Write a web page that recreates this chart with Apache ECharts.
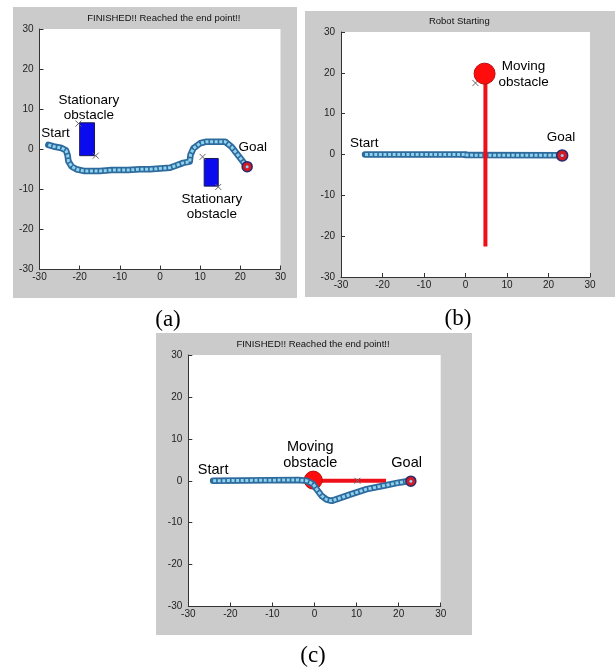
<!DOCTYPE html>
<html><head><meta charset="utf-8">
<script src="https://cdn.jsdelivr.net/npm/echarts@6/dist/echarts.min.js"></script>
<style>html,body{margin:0;padding:0;background:#fff}#c{width:615px;height:669px}</style>
</head><body><div id="c"></div>
<script>
// ---- data ----
const axisTicks = [-30, -20, -10, 0, 10, 20, 30];
const titles = ['FINISHED!! Reached the end point!!', 'Robot Starting', 'FINISHED!! Reached the end point!!'];
const panelLabels = ['(a)', '(b)', '(c)'];

// (a) stationary obstacles
const pathA = [[-27.8,1.1],[-26.5,0.7],[-24.5,0.3],[-23.4,-0.3],[-23.0,-1.5],[-22.8,-3.0],[-22.0,-4.3],[-20.8,-5.0],[-19.0,-5.4],[-15.0,-5.4],[-12.0,-5.2],[-8.0,-5.2],[-5.0,-5.0],[-2.5,-5.0],[2.5,-4.6],[5.8,-3.4],[7.4,-3.1],[7.6,-1.4],[8.3,0.2],[10.0,1.5],[11.6,1.9],[16.2,1.9],[17.8,0.6],[21.6,-4.3]];
const rectsA = [[-20.0,-1.6,-16.3,6.6],[11.0,-9.2,14.5,-2.3]];
const crossesA = [[-20.3,6.4],[-16.0,-1.6],[10.6,-1.9],[14.5,-9.4]];
const goalA = [[21.7,-4.35]];
const notesA = [['Start',-26.0,4.1],['Stationary\nobstacle',-17.7,10.4],['Stationary\nobstacle',12.9,-14.4],['Goal',23.1,0.5]];

// (b) moving obstacle, start
const pathB1 = [[-24.2,0.0],[0.0,0.0]];
const pathB2 = [[0.0,-0.15],[23.3,-0.2]];
const obsLineB = [[4.8,19.8],[4.8,-22.5]];
const obsB = [[4.6,19.8]];
const crossesB = [[2.4,17.5]];
const goalB = [[23.3,-0.25]];
const notesB = [['Start',-24.4,2.8],['Moving\nobstacle',14.0,19.7],['Goal',23.0,4.3]];

// (c) moving obstacle, finished
const pathC = [[-24.1,0.0],[-3.9,0.2],[-1.9,0.0],[-0.3,-0.8],[0.5,-2.0],[1.7,-3.6],[2.9,-4.5],[4.1,-4.8],[8.4,-3.3],[12.4,-2.0],[16.4,-1.2],[20.3,-0.4],[22.85,0.0]];
const obsLineC = [[0.0,0.0],[17.0,0.0]];
const obsC = [[-0.3,0.15]];
const crossesC = [[10.2,0.0]];
const goalC = [[22.9,-0.1]];
const notesC = [['Start',-24.1,2.6],['Moving\nobstacle',-1.0,6.1],['Goal',21.9,4.2]];

// ---- layout / style ----
const grids = [
  {left:39.5, top:29, width:241, height:240.5},
  {left:341, top:32, width:249, height:245},
  {left:188.3, top:355, width:252.4, height:251.5}
];
const panels = [
  {x:13, y:7, w:284, h:291},
  {x:305, y:11, w:310, h:286},
  {x:156, y:333, w:316, h:302}
];
const titlePos = [[163.8,18.5],[459.3,21.5],[313,344]];
const labelPos = [[168,320],[458,319],[313,656]];
const noteSize = [13.5, 13.5, 14.5];

const PATH_DARK = '#2f6a9c', PATH_LIGHT = '#8ed3f0';
const RED = '#ff0d0d';
const FONT = 'Liberation Sans, Arial, sans-serif';

const xAxes = [], yAxes = [], series = [], graphics = [];
panels.forEach(p => graphics.push({type:'rect', z:-10, shape:{x:p.x, y:p.y, width:p.w, height:p.h}, style:{fill:'#cbcbcb'}}));
titles.forEach((t,i) => graphics.push({type:'text', x:titlePos[i][0], y:titlePos[i][1], style:{text:t, fontSize:9.5, fontFamily:FONT, fill:'#111', textAlign:'center', textVerticalAlign:'middle'}}));
panelLabels.forEach((t,i) => graphics.push({type:'text', x:labelPos[i][0], y:labelPos[i][1], style:{text:t, fontSize:23, fontFamily:'Liberation Serif, Times New Roman, serif', fill:'#000', textAlign:'center', textVerticalAlign:'middle'}}));

grids.forEach((g,i) => {
  const common = {gridIndex:i, type:'value', min:axisTicks[0], max:axisTicks[axisTicks.length-1], interval:10,
    axisLine:{onZero:false, lineStyle:{color:'#333', width:1}},
    axisTick:{inside:true, length:4, lineStyle:{color:'#333'}},
    splitLine:{show:false},
    axisLabel:{fontSize:10, color:'#222', fontFamily:FONT}};
  xAxes.push(Object.assign({}, common, {axisLabel:Object.assign({}, common.axisLabel, {margin:3})}));
  yAxes.push(Object.assign({}, common, {axisLabel:Object.assign({}, common.axisLabel, {margin:6})}));
});

function pathSeries(i, data) {
  series.push({type:'line', xAxisIndex:i, yAxisIndex:i, data:data, showSymbol:false, silent:true, z:5,
    lineStyle:{color:PATH_DARK, width:6.5, cap:'round', join:'round'}});
  series.push({type:'line', xAxisIndex:i, yAxisIndex:i, data:data, showSymbol:false, silent:true, z:6,
    lineStyle:{color:PATH_LIGHT, width:3, type:[3,1.6], join:'round'}});
}
function crossSeries(i, data) {
  series.push({type:'scatter', xAxisIndex:i, yAxisIndex:i, data:data, silent:true, z:7,
    symbol:'path://M0,0L10,10M10,0L0,10', symbolSize:6,
    itemStyle:{color:'rgba(0,0,0,0)', borderColor:'#666', borderWidth:1, opacity:1}});
}
function goalSeries(i, data, size) {
  series.push({type:'scatter', xAxisIndex:i, yAxisIndex:i, data:data, silent:true, z:8,
    symbolSize:size, itemStyle:{color:'#d41a24', borderColor:'#2a2a6a', borderWidth:1.5, opacity:1}});
  series.push({type:'scatter', xAxisIndex:i, yAxisIndex:i, data:data, silent:true, z:9,
    symbolSize:3, itemStyle:{color:PATH_LIGHT, opacity:1}});
}
function noteSeries(i, notes) {
  series.push({type:'scatter', xAxisIndex:i, yAxisIndex:i, silent:true, z:20, symbolSize:0,
    data:notes.map(n => ({name:n[0], value:[n[1], n[2]]})),
    itemStyle:{opacity:1},
    label:{show:true, position:'inside', formatter:'{b}', fontSize:noteSize[i], lineHeight:noteSize[i]+2, color:'#000', opacity:1, fontFamily:FONT}});
}

// (a)
series.push({type:'custom', xAxisIndex:0, yAxisIndex:0, data:rectsA, encode:{x:[0,2], y:[1,3]}, silent:true, z:3,
  renderItem:function(params, api){
    const p1 = api.coord([api.value(0), api.value(1)]);
    const p2 = api.coord([api.value(2), api.value(3)]);
    return {type:'rect', shape:{x:p1[0], y:p2[1], width:p2[0]-p1[0], height:p1[1]-p2[1]}, style:{fill:'#0b0bf0', stroke:'#1a1a50', lineWidth:1}};
  }});
pathSeries(0, pathA);
crossSeries(0, crossesA);
goalSeries(0, goalA, 10);
noteSeries(0, notesA);

// (b)
pathSeries(1, pathB1);
pathSeries(1, pathB2);
series.push({type:'line', xAxisIndex:1, yAxisIndex:1, data:obsLineB, showSymbol:false, silent:true, z:10, lineStyle:{color:'#ee1018', width:4}});
crossSeries(1, crossesB);
series.push({type:'scatter', xAxisIndex:1, yAxisIndex:1, data:obsB, silent:true, z:11, symbolSize:21, itemStyle:{color:RED, borderColor:'#b80c0c', borderWidth:1, opacity:1}});
goalSeries(1, goalB, 11);
noteSeries(1, notesB);

// (c)
series.push({type:'line', xAxisIndex:2, yAxisIndex:2, data:obsLineC, showSymbol:false, silent:true, z:4, lineStyle:{color:'#ee1018', width:4}});
series.push({type:'scatter', xAxisIndex:2, yAxisIndex:2, data:obsC, silent:true, z:4, symbolSize:18, itemStyle:{color:RED, borderColor:'#b80c0c', borderWidth:1, opacity:1}});
crossSeries(2, crossesC);
pathSeries(2, pathC);
goalSeries(2, goalC, 10);
noteSeries(2, notesC);

const chart = echarts.init(document.getElementById('c'), null, {renderer:'canvas'});
chart.setOption({
  animation:false,
  backgroundColor:'#ffffff',
  grid: grids.map(g => Object.assign({show:true, backgroundColor:'#ffffff', borderWidth:0, containLabel:false}, g)),
  xAxis: xAxes,
  yAxis: yAxes,
  series: series,
  graphic: graphics
});
</script></body></html>
